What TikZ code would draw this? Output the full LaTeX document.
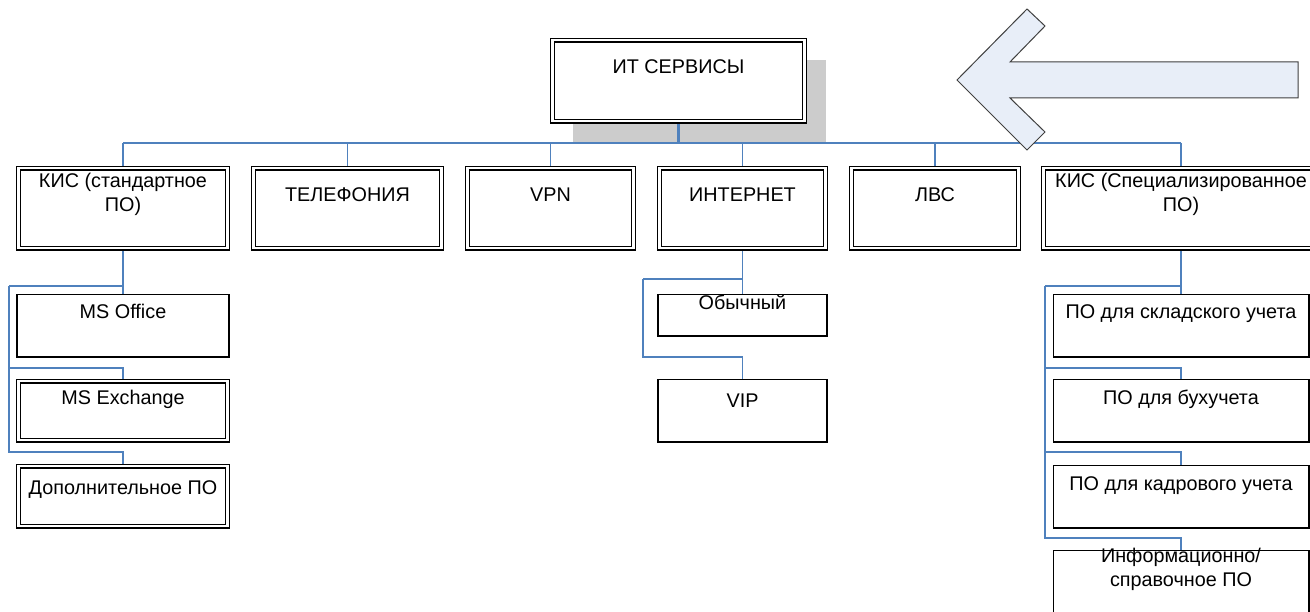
\documentclass[tikz,border=0pt]{standalone}
\usepackage{fontspec}
\setmainfont{Liberation Sans}
\usetikzlibrary{calc,backgrounds}
\definecolor{linkblue}{RGB}{79,129,189}
\definecolor{shadowgray}{RGB}{204,204,204}
\definecolor{arrowfill}{RGB}{232,238,248}
\definecolor{arrowline}{RGB}{64,64,64}
\tikzset{
  dblbox/.style={draw,double,line width=1.3pt,double distance=2.4pt,fill=white,inner sep=0pt,anchor=north},
  sglbox/.style={draw,line width=1.6pt,fill=white,inner sep=0pt,anchor=north},
  txt/.style={font=\fontsize{19.8}{24}\selectfont,inner sep=0pt,text height=14pt,text depth=0pt},
  txttwo/.style={font=\fontsize{19.8}{24}\selectfont,inner sep=0pt,align=center},
  link/.style={draw=linkblue,line width=1.6pt},
}
\begin{document}
\begin{tikzpicture}[x=1pt,y=-1pt]
        \useasboundingbox (0,0) rectangle (1310,612);
        % top
        \node[dblbox,minimum width=252pt,minimum height=81pt] (it) at (678.5,39.5) {};
        \node[txt] (it-t) at (678.5,67) {ИТ СЕРВИСЫ};
        % first row
        \node[dblbox,minimum width=209pt,minimum height=80pt] (kis) at (123,167.5) {};
        \node[dblbox,minimum width=188pt,minimum height=80pt] (tel) at (347.5,167.5) {};
        \node[dblbox,minimum width=166pt,minimum height=80pt] (vpn) at (550.5,167.5) {};
        \node[dblbox,minimum width=166pt,minimum height=80pt] (inet) at (742.5,167.5) {};
        \node[dblbox,minimum width=167pt,minimum height=80pt] (lvs) at (935,167.5) {};
        \node[dblbox,minimum width=275pt,minimum height=80pt] (kiss) at (1181,167.5) {};
        \node[txttwo] (kis-t) at (123,194) {КИС (стандартное\\ПО)};
        \node[txt] (tel-t) at (347.5,195) {ТЕЛЕФОНИЯ};
        \node[txt] (vpn-t) at (550.5,195) {VPN};
        \node[txt] (inet-t) at (742.5,195) {ИНТЕРНЕТ};
        \node[txt] (lvs-t) at (935,195) {ЛВС};
        \node[txttwo] (kiss-t) at (1181,194) {КИС (Специализированное\\ПО)};
        % left column
        \node[sglbox,minimum width=212.4pt,minimum height=62.4pt] (msoff) at (123,293.8) {};
        \node[dblbox,minimum width=209pt,minimum height=59pt] (msex) at (123,380.5) {};
        \node[dblbox,minimum width=209pt,minimum height=60pt] (dop) at (123,465.5) {};
        \node[txt] (msoff-t) at (123,312) {MS Office};
        \node[txt] (msex-t) at (123,398) {MS Exchange};
        \node[txt] (dop-t) at (123,487) {Дополнительное ПО};
        % internet column
        \node[sglbox,minimum width=169.4pt,minimum height=41.4pt] (obych) at (742.5,293.8) {};
        \node[sglbox,minimum width=169.4pt,minimum height=62.4pt] (vip) at (742.5,378.8) {};
        \node[txt] (obych-t) at (742.5,303) {Обычный};
        \node[txt] (vip-t) at (742.5,400) {VIP};
        % right column
        \node[sglbox,minimum width=255.4pt,minimum height=62.4pt] (sklad) at (1181,293.8) {};
        \node[sglbox,minimum width=255.4pt,minimum height=62.4pt] (buh) at (1181,378.8) {};
        \node[sglbox,minimum width=255.4pt,minimum height=62.4pt] (kadr) at (1181,464.8) {};
        \node[sglbox,minimum width=255.4pt,minimum height=80pt] (inf) at (1181,549.8) {};
        \node[txt] (sklad-t) at (1181,312) {ПО для складского учета};
        \node[txt] (buh-t) at (1181,398) {ПО для бухучета};
        \node[txt] (kadr-t) at (1181,483) {ПО для кадрового учета};
        \node[txttwo] (inf-t) at (1181,569) {Информационно/\\справочное ПО};
        % lines behind the boxes
        \begin{scope}[on background layer]
        \fill[shadowgray] ([shift={(21,21)}]it.north west) rectangle ([shift={(21,21)}]it.south east);
        \coordinate (bus) at (678.5,143);
        \draw[link,line width=3pt] (it.south) -- (it.south |- bus);
        \draw[link,line width=2pt] (kis.north |- bus) -- (kiss.north |- bus);
        \foreach \n in {kis,tel,vpn,inet,lvs,kiss}
            \draw[link] (\n.north |- bus) -- (\n.north);
        \coordinate (railL) at (9,286);
        \draw[link] (kis.south) -- (msoff.north);
        \draw[link] (msoff.north |- railL) -- (railL);
        \foreach \n/\h in {msex/12.5,dop/13.5}
            \draw[link] (\n.north) -- ++(0,-\h) -| (railL);
        \coordinate (railI) at (643,279);
        \draw[link] (inet.south) -- (obych.north);
        \draw[link] (obych.north |- railI) -- (railI);
        \draw[link] (vip.north) -- ++(0,-21.8) -| (railI);
        \coordinate (railR) at (1045,286);
        \draw[link] (kiss.south) -- (sklad.north);
        \draw[link] (sklad.north |- railR) -- (railR);
        \foreach \n/\h in {buh/10.8,kadr/12.8,inf/11.8}
            \draw[link] (\n.north) -- ++(0,-\h) -| (railR);
        \end{scope}
        % big arrow
        \filldraw[fill=arrowfill,draw=arrowline,line width=1pt] (957,80) -- (1027,9) -- (1045,26) -- (1010,62) -- (1298,62) -- (1298,98) -- (1010,98) -- (1045,132) -- (1027,150) -- cycle;
\end{tikzpicture}
\end{document}
